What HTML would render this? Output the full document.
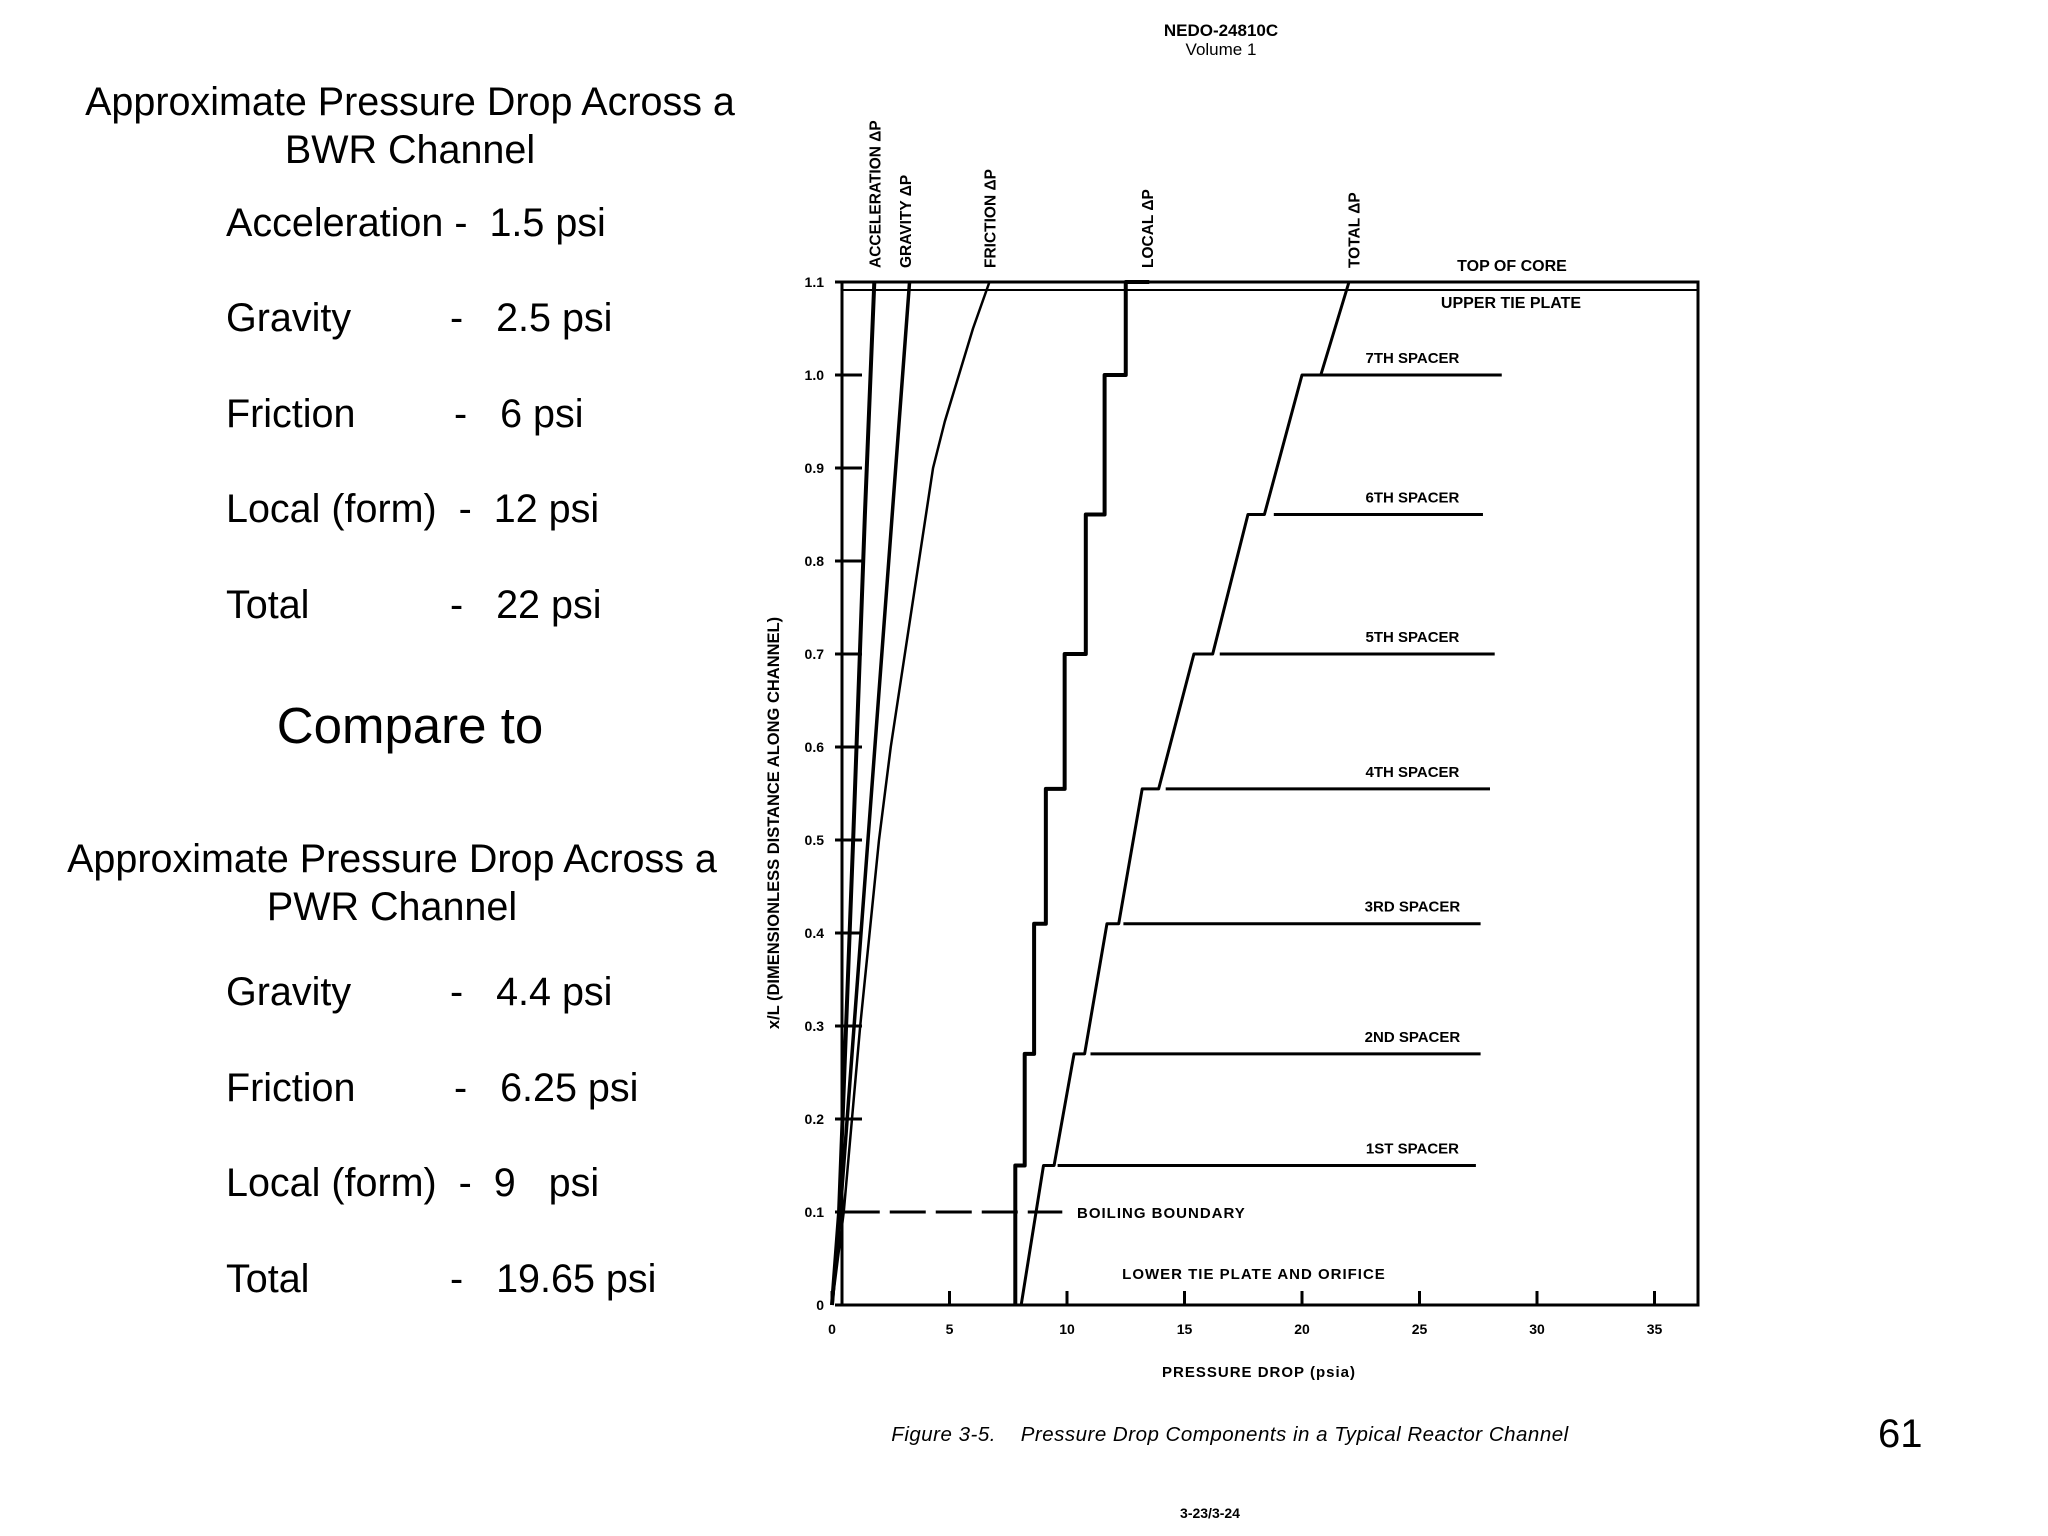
<!DOCTYPE html>
<html><head><meta charset="utf-8"><style>
body{margin:0;background:#fff;width:2048px;height:1536px;overflow:hidden;font-family:"Liberation Sans",sans-serif;}
.t{position:absolute;color:#000;white-space:nowrap;}
svg{position:absolute;left:0;top:0;}
</style></head><body>
<div class="t" style="left:0;width:820px;text-align:center;top:78px;font-size:39.5px;line-height:48px">Approximate Pressure Drop Across a<br>BWR Channel</div>
<div class="t" style="left:226px;top:201px;font-size:39.5px">Acceleration -&nbsp; 1.5 psi</div>
<div class="t" style="left:226px;top:296px;font-size:39.5px">Gravity</div><div class="t" style="left:450px;top:296px;font-size:39.5px">-&nbsp;&nbsp; 2.5 psi</div>
<div class="t" style="left:226px;top:392px;font-size:39.5px">Friction</div><div class="t" style="left:454px;top:392px;font-size:39.5px">-&nbsp;&nbsp; 6 psi</div>
<div class="t" style="left:226px;top:487px;font-size:39.5px">Local (form)&nbsp; -&nbsp; 12 psi</div>
<div class="t" style="left:226px;top:583px;font-size:39.5px">Total</div><div class="t" style="left:450px;top:583px;font-size:39.5px">-&nbsp;&nbsp; 22 psi</div>
<div class="t" style="left:0;width:820px;text-align:center;top:696px;font-size:51px">Compare to</div>
<div class="t" style="left:0;width:784px;text-align:center;top:835px;font-size:39.5px;line-height:48px">Approximate Pressure Drop Across a<br>PWR Channel</div>
<div class="t" style="left:226px;top:970px;font-size:39.5px">Gravity</div><div class="t" style="left:450px;top:970px;font-size:39.5px">-&nbsp;&nbsp; 4.4 psi</div>
<div class="t" style="left:226px;top:1066px;font-size:39.5px">Friction</div><div class="t" style="left:454px;top:1066px;font-size:39.5px">-&nbsp;&nbsp; 6.25 psi</div>
<div class="t" style="left:226px;top:1161px;font-size:39.5px">Local (form)&nbsp; -&nbsp; 9 &nbsp; psi</div>
<div class="t" style="left:226px;top:1257px;font-size:39.5px">Total</div><div class="t" style="left:450px;top:1257px;font-size:39.5px">-&nbsp;&nbsp; 19.65 psi</div>
<div class="t" style="left:1878px;top:1412px;font-size:40px">61</div>
<svg id="c" width="2048" height="1536"></svg>
<script>
const xTicks=[0,5,10,15,20,25,30,35];
const yTicks=[0,0.1,0.2,0.3,0.4,0.5,0.6,0.7,0.8,0.9,1.0,1.1];
const yTickLabels=["0","0.1","0.2","0.3","0.4","0.5","0.6","0.7","0.8","0.9","1.0","1.1"];
const accelX=[0,0.3,0.9,1.4,1.8];
const accelY=[0,0.1,0.5,0.85,1.1];
const gravX=[0,0.35,3.3];
const gravY=[0,0.1,1.1];
const fricX=[0,0.5,1.2,2.0,2.5,3.1,3.7,4.3,4.8,5.4,6.0,6.7];
const fricY=[0,0.1,0.3,0.5,0.6,0.7,0.8,0.9,0.95,1.0,1.05,1.1];
const localX=[7.8,7.8,8.2,8.2,8.6,8.6,9.1,9.1,9.9,9.9,10.8,10.8,11.6,11.6,12.5,12.5,13.5];
const localY=[0,0.15,0.15,0.27,0.27,0.41,0.41,0.555,0.555,0.70,0.70,0.85,0.85,1.0,1.0,1.1,1.1];
const totalX=[8.05,9.0,9.45,10.3,10.75,11.7,12.2,13.2,13.9,15.4,16.2,17.7,18.4,20.0,20.8,22.0];
const totalY=[0,0.15,0.15,0.27,0.27,0.41,0.41,0.555,0.555,0.70,0.70,0.85,0.85,1.0,1.0,1.1];
const spacerNames=["1ST SPACER","2ND SPACER","3RD SPACER","4TH SPACER","5TH SPACER","6TH SPACER","7TH SPACER"];
const spacerY=[0.15,0.27,0.41,0.555,0.70,0.85,1.0];
const spacerStart=[9.6,11.0,12.4,14.2,16.5,18.8,20.8];
const spacerEnd=[27.4,27.6,27.6,28.0,28.2,27.7,28.5];
const seriesNames=["ACCELERATION ΔP","GRAVITY ΔP","FRICTION ΔP","LOCAL ΔP","TOTAL ΔP"];
const seriesLabelX=[1.8,3.1,6.7,13.4,22.2];

const X=v=>832+v*23.5, Y=v=>1305-v*930;
const svg=document.getElementById('c');const NS='http://www.w3.org/2000/svg';
function mk(tag,a,txt){const e=document.createElementNS(NS,tag);for(const k in a)e.setAttribute(k,a[k]);if(txt!==undefined)e.textContent=txt;svg.appendChild(e);return e;}
const F='font-family:"Liberation Sans",sans-serif;font-weight:bold;';
let e=mk('rect',{x:842,y:Y(1.1),width:1698-842,height:Y(0)-Y(1.1),fill:'none',stroke:'#000','stroke-width':3});

e=mk('line',{x1:842,y1:Y(1.1)+8,x2:1698,y2:Y(1.1)+8,stroke:'#000','stroke-width':2});

xTicks.forEach(v=>{
 e=mk('line',{x1:X(v),y1:Y(0),x2:X(v),y2:Y(0)-14,stroke:'#000','stroke-width':3});
 
 e=mk('text',{x:X(v),y:Y(0)+29,'text-anchor':'middle',style:F+'font-size:14px'},String(v));
 
});
yTicks.forEach((v,i)=>{
 e=mk('line',{x1:835,y1:Y(v),x2:862,y2:Y(v),stroke:'#000','stroke-width':3});
 
 e=mk('text',{x:824,y:Y(v)+5,'text-anchor':'end',style:F+'font-size:14px'},yTickLabels[i]);
 
});
function poly(xs,ys,w,name){const p=xs.map((x,i)=>X(x)+','+Y(ys[i])).join(' ');
 const el=mk('polyline',{points:p,fill:'none',stroke:'#000','stroke-width':w,'stroke-linejoin':'round'});
 }
poly(accelX,accelY,4,'acceleration-line');
poly(gravX,gravY,3.5,'gravity-line');
poly(fricX,fricY,2.5,'friction-line');
poly(localX,localY,4,'local-line');
poly(totalX,totalY,3,'total-line');
spacerY.forEach((v,i)=>{
 e=mk('line',{x1:X(spacerStart[i]),y1:Y(v),x2:X(spacerEnd[i]),y2:Y(v),stroke:'#000','stroke-width':3});
 
 e=mk('text',{x:X(24.7),y:Y(v)-12,'text-anchor':'middle',style:F+'font-size:15px'},spacerNames[i]);
 
});
e=mk('line',{x1:X(0.5),y1:Y(0.1),x2:X(9.8),y2:Y(0.1),stroke:'#000','stroke-width':3,'stroke-dasharray':'36,10'});

e=mk('text',{x:1077,y:Y(0.1)+6,style:F+'font-size:15px;letter-spacing:1px'},'BOILING BOUNDARY');

e=mk('text',{x:1254,y:1279,'text-anchor':'middle',style:F+'font-size:15px;letter-spacing:1px'},'LOWER TIE PLATE AND ORIFICE');

e=mk('text',{x:1512,y:271,'text-anchor':'middle',style:F+'font-size:16px'},'TOP OF CORE');

e=mk('text',{x:1511,y:308,'text-anchor':'middle',style:F+'font-size:16px'},'UPPER TIE PLATE');

seriesNames.forEach((n,i)=>{const x=X(seriesLabelX[i])+6,y=Y(1.1)-14;
 e=mk('text',{x:x,y:y,transform:`rotate(-90 ${x} ${y})`,style:F+'font-size:15.5px'},n);
 
});
e=mk('text',{x:779,y:823,'text-anchor':'middle',transform:'rotate(-90 779 823)',style:F+'font-size:16.5px'},'x/L (DIMENSIONLESS DISTANCE ALONG CHANNEL)');

e=mk('text',{x:1259,y:1377,'text-anchor':'middle',style:F+'font-size:15px;letter-spacing:1px'},'PRESSURE DROP (psia)');

e=mk('text',{x:1230,y:1441,'text-anchor':'middle',style:'font-family:"Liberation Sans",sans-serif;font-style:italic;font-size:20.5px;letter-spacing:0.5px;white-space:pre'},'Figure 3-5.    Pressure Drop Components in a Typical Reactor Channel');

e=mk('text',{x:1221,y:36,'text-anchor':'middle',style:F+'font-size:17px'},'NEDO-24810C');

e=mk('text',{x:1221,y:55,'text-anchor':'middle',style:'font-family:"Liberation Sans",sans-serif;font-size:17px'},'Volume 1');

e=mk('text',{x:1210,y:1518,'text-anchor':'middle',style:F+'font-size:14px'},'3-23/3-24');

</script>
</body></html>
